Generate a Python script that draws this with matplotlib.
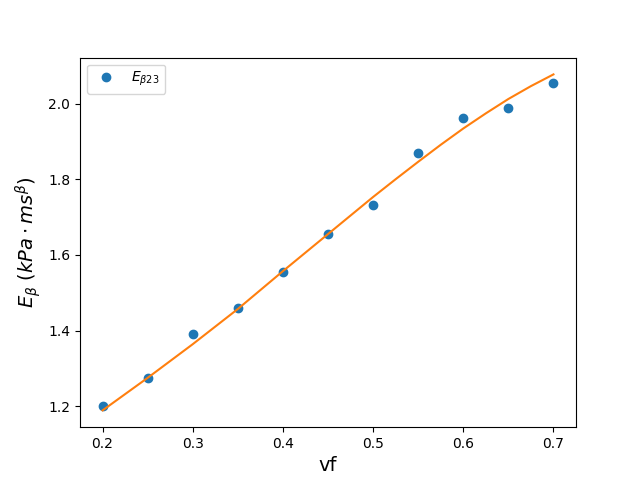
import matplotlib
matplotlib.use("Agg")
import matplotlib.pyplot as plt

# measured points
vf = [0.2, 0.25, 0.3, 0.35, 0.4, 0.45, 0.5, 0.55, 0.6, 0.65, 0.7]
e_beta = [1.200, 1.274, 1.390, 1.459, 1.556, 1.654, 1.731, 1.868, 1.963, 1.989, 2.055]

# fitted curve
fit_vf = [0.2, 0.25, 0.3, 0.35, 0.4, 0.45, 0.5, 0.525, 0.55, 0.575, 0.6,
          0.625, 0.65, 0.675, 0.7]
fit_e = [1.189, 1.275, 1.364, 1.457, 1.557, 1.655, 1.753, 1.800, 1.846, 1.891, 1.934,
         1.974, 2.012, 2.046, 2.077]

fig, ax = plt.subplots(figsize=(6.4, 4.8), dpi=100)

ax.plot(vf, e_beta, 'o', label=r'$E_{\beta 23}$')
ax.plot(fit_vf, fit_e, '-')

ax.set_xlabel('vf', fontsize=14)
ax.set_ylabel(r'$E_{\beta}$ $(kPa \cdot ms^{\beta})$', fontsize=14)
ax.legend(loc='upper left')

fig.savefig('out.png')
